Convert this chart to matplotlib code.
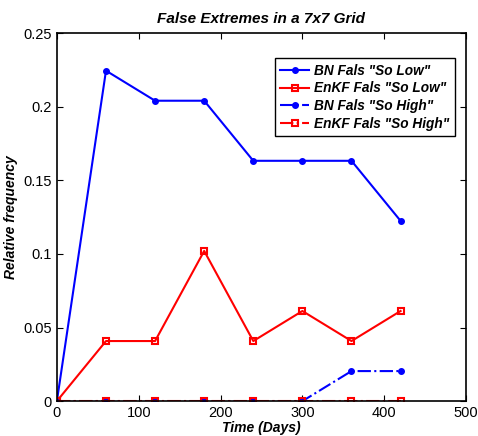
import matplotlib
matplotlib.use("Agg")
import matplotlib.pyplot as plt

plt.rcParams["font.family"] = ["Liberation Sans", "DejaVu Sans"]

# observation times (days) and fraction of the 49 grid cells flagged
days = [0, 60, 120, 180, 240, 300, 360, 420]
bn_low = [0, 11 / 49, 10 / 49, 10 / 49, 8 / 49, 8 / 49, 8 / 49, 6 / 49]
enkf_low = [0, 2 / 49, 2 / 49, 5 / 49, 2 / 49, 3 / 49, 2 / 49, 3 / 49]
bn_high = [0, 0, 0, 0, 0, 0, 1 / 49, 1 / 49]
enkf_high = [0, 0, 0, 0, 0, 0, 0, 0]

fig = plt.figure(figsize=(4.78, 4.36), dpi=100)
ax = fig.add_axes([0.119, 0.080, 0.856, 0.844])

ax.plot(days, bn_low, "-", color="blue", lw=1.5, marker="o", ms=4,
        label='BN Fals "So Low"')
ax.plot(days, enkf_low, "-", color="red", lw=1.5, marker="s", ms=4,
        mfc="none", mew=1.5, label='EnKF Fals "So Low"')
ax.plot(days, bn_high, "-.", color="blue", lw=1.5, marker="o", ms=4,
        label='BN Fals "So High"')
ax.plot(days, enkf_high, "-.", color="red", lw=1.5, marker="s", ms=4,
        mfc="none", mew=1.5, label='EnKF Fals "So High"')

ax.set_xlim(0, 500)
ax.set_ylim(0, 0.25)
ax.set_xticks([0, 100, 200, 300, 400, 500])
ax.set_yticks([0, 0.05, 0.1, 0.15, 0.2, 0.25])
ax.set_yticklabels(["0", "0.05", "0.1", "0.15", "0.2", "0.25"])
ax.tick_params(direction="in", length=4, labelsize=10.5, top=True, right=True)
for s in ax.spines.values():
    s.set_linewidth(1.2)

ax.set_xlabel("Time (Days)", fontsize=10, fontweight="bold", style="italic", labelpad=1)
ax.set_ylabel("Relative frequency", fontsize=10, fontweight="bold", style="italic", labelpad=4)
ax.set_title("False Extremes in a 7x7 Grid", fontsize=11, fontweight="bold", style="italic", pad=7)

leg = ax.legend(loc="upper right", bbox_to_anchor=(0.973, 0.932), borderaxespad=0,
                fancybox=False, edgecolor="black", framealpha=1, handlelength=2.1,
                prop={"weight": "bold", "style": "italic", "size": 9.8},
                borderpad=0.4, labelspacing=0.28, handletextpad=0.4)
leg.get_frame().set_linewidth(1.0)

fig.savefig("out.png", dpi=100)
